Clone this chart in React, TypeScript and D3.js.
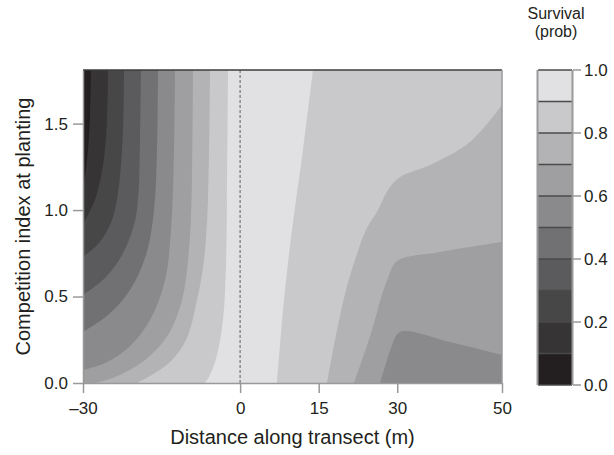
import * as d3 from "d3"
import { useEffect, useRef } from "react"

type Pt = [number, number]

const W = 614
const H = 455
const FONT = "'Liberation Sans', Arial, sans-serif"

const xDomain: [number, number] = [-30, 50]
const yDomain: [number, number] = [0, 1.81]
const xTicks = [-30, 0, 15, 30, 50]
const yTicks = [0, 0.5, 1.0, 1.5]
const legendTicks = [0, 0.2, 0.4, 0.6, 0.8, 1.0]
const legendBreaks = [0, 0.1, 0.2, 0.3, 0.4, 0.5, 0.6, 0.7, 0.8, 0.9, 1.0]

// fill colour of each 0.1 band, lowest survival first
const bandColors = [
  "#231f20",
  "#363435",
  "#484748",
  "#5b5a5c",
  "#717173",
  "#8a8a8c",
  "#9f9fa1",
  "#b3b3b5",
  "#c9c9cb",
  "#e1e1e3",
]

// left-hand branch of each contour, read from the top edge downwards
// [distance (m), competition index]
const left01: Pt[] = [[-28.47, 1.81], [-28.66, 1.55], [-29.05, 1.35], [-29.6, 1.2], [-30, 1.145]]
const left02: Pt[] = [[-25.23, 1.81], [-25.42, 1.52], [-26.18, 1.26], [-27.71, 1.06], [-30, 0.92]]
const left03: Pt[] = [[-22.17, 1.81], [-22.36, 1.46], [-23.13, 1.145], [-24.46, 0.943], [-26.95, 0.81], [-30, 0.73]]
const left04: Pt[] = [[-18.93, 1.81], [-19.12, 1.405], [-19.5, 1.058], [-20.26, 0.914], [-22.55, 0.74], [-25.8, 0.607], [-30, 0.509]]
const left05: Pt[] = [[-15.68, 1.81], [-15.87, 1.347], [-16.44, 1.0], [-17.97, 0.74], [-21.03, 0.538], [-25.23, 0.393], [-30, 0.295]]
const left06: Pt[] = [[-12.43, 1.81], [-12.62, 1.347], [-13.2, 0.885], [-14.34, 0.596], [-17.21, 0.364], [-21.41, 0.202], [-25.8, 0.116], [-30, 0.075]]
const left07: Pt[] = [[-9.0, 1.81], [-9.19, 1.174], [-9.76, 0.769], [-11.1, 0.48], [-13.77, 0.278], [-18.16, 0.133], [-23.89, 0.035], [-27.71, 0]]
const left08: Pt[] = [[-5.75, 1.81], [-6.13, 1.058], [-6.9, 0.711], [-8.23, 0.48], [-10.33, 0.249], [-13.39, 0.121], [-17.21, 0.04], [-19.69, 0]]
const left09: Pt[] = [[-2.31, 1.81], [-2.51, 1.058], [-2.7, 0.682], [-3.27, 0.364], [-4.42, 0.162], [-5.75, 0.046], [-6.71, 0]]

// right-hand branches, read from the bottom edge upwards
const right06: Pt[] = [[26.71, 0], [27.47, 0.075], [28.81, 0.202], [30.53, 0.295], [40.07, 0.237], [50, 0.162]]
const right07: Pt[] = [[21.74, 0], [23.27, 0.133], [25.18, 0.306], [26.9, 0.492], [28.23, 0.607], [29.95, 0.705], [38.16, 0.758], [50, 0.815]]
const right08: Pt[] = [[16.59, 0], [18.31, 0.278], [20.22, 0.538], [21.93, 0.711], [24.03, 0.885], [26.32, 1.0], [28.23, 1.116], [30.53, 1.191], [36.25, 1.261], [43.89, 1.394], [50, 1.608]]
const right09: Pt[] = [[7.04, 0], [8.38, 0.48], [9.9, 0.885], [12.0, 1.347], [13.91, 1.81]]

const leftBranches = [left01, left02, left03, left04, left05, left06, left07, left08, left09]
const rightBranches: (Pt[] | null)[] = [null, null, null, null, null, right06, right07, right08, right09]

const App = () => {
  const svgRef = useRef<SVGSVGElement>(null)

  useEffect(() => {
    if (!svgRef.current) return
    const svg = d3.select(svgRef.current)
    svg.selectAll("*").remove()

    const MARGIN = { top: 70, right: 112, bottom: 72, left: 83 }
    const x = d3.scaleLinear().domain(xDomain).range([MARGIN.left, W - MARGIN.right])
    const y = d3.scaleLinear().domain(yDomain).range([H - MARGIN.bottom, MARGIN.top])
    const [x0, x1] = xDomain
    const [y0, y1] = yDomain

    const curve = d3
      .line<Pt>()
      .x((d) => x(d[0]))
      .y((d) => y(d[1]))
      .curve(d3.curveCatmullRom.alpha(0.5))

    // region where survival is above a level, closed along the plot edges
    const bandPath = (lft: Pt[], rgt: Pt[] | null) => {
      let d = curve(lft) as string
      const end = lft[lft.length - 1]
      if (end[1] > y0) d += `L${x(x0)},${y(y0)}`
      if (rgt) {
        d += (curve(rgt) as string).replace(/^M/, "L")
        const last = rgt[rgt.length - 1]
        if (last[1] < y1) d += `L${x(x1)},${y(y1)}`
      } else {
        d += `L${x(x1)},${y(y0)}L${x(x1)},${y(y1)}`
      }
      return d + "Z"
    }

    svg
      .append("defs")
      .append("clipPath")
      .attr("id", "plot-clip")
      .append("rect")
      .attr("x", x(x0))
      .attr("y", y(y1))
      .attr("width", x(x1) - x(x0))
      .attr("height", y(y0) - y(y1))

    const plot = svg.append("g").attr("clip-path", "url(#plot-clip)")
    plot
      .append("rect")
      .attr("x", x(x0))
      .attr("y", y(y1))
      .attr("width", x(x1) - x(x0))
      .attr("height", y(y0) - y(y1))
      .attr("fill", bandColors[0])

    plot
      .selectAll("path.band")
      .data(leftBranches)
      .join("path")
      .attr("class", "band")
      .attr("d", (lft, i) => bandPath(lft, rightBranches[i]))
      .attr("fill", (_, i) => bandColors[i + 1])

    // planting line
    svg
      .append("line")
      .attr("x1", x(0))
      .attr("x2", x(0))
      .attr("y1", y(y1))
      .attr("y2", y(y0))
      .attr("stroke", "#8a8a8a")
      .attr("stroke-width", 1.5)
      .style("stroke-dasharray", "3,2")

    // frame
    svg
      .append("line")
      .attr("x1", x(x0))
      .attr("x2", x(x1))
      .attr("y1", y(y1))
      .attr("y2", y(y1))
      .attr("stroke", "#3c3c3c")
      .attr("stroke-width", 1.5)
    svg
      .append("line")
      .attr("x1", x(x1))
      .attr("x2", x(x1))
      .attr("y1", y(y1))
      .attr("y2", y(y0))
      .attr("stroke", "#9a9a9a")
      .attr("stroke-width", 1.5)

    const styleAxis = (g: d3.Selection<SVGGElement, unknown, null, undefined>) => {
      g.select(".domain").attr("stroke", "#999").attr("stroke-width", 1.5)
      g.selectAll(".tick line").attr("stroke", "#999").attr("stroke-width", 1.5)
      g.selectAll(".tick text").attr("fill", "#231f20")
      g.attr("font-family", FONT).attr("font-size", 17)
    }

    svg
      .append("g")
      .attr("transform", `translate(0, ${y(y0)})`)
      .call(
        d3
          .axisBottom(x)
          .tickValues(xTicks)
          .tickSize(10)
          .tickSizeOuter(0)
          .tickPadding(9)
          .tickFormat((d) => (+d < 0 ? `–${-d}` : `${d}`)),
      )
      .call(styleAxis)

    svg
      .append("g")
      .attr("transform", `translate(${x(x0)}, 0)`)
      .call(
        d3
          .axisLeft(y)
          .tickValues(yTicks)
          .tickSize(10)
          .tickSizeOuter(0)
          .tickPadding(5)
          .tickFormat(d3.format(".1f")),
      )
      .call(styleAxis)

    svg
      .append("text")
      .attr("x", (x(x0) + x(x1)) / 2)
      .attr("y", 444)
      .attr("text-anchor", "middle")
      .attr("font-family", FONT)
      .attr("font-size", 20)
      .attr("fill", "#231f20")
      .text("Distance along transect (m)")

    svg
      .append("text")
      .attr("transform", `translate(30, ${(y(y0) + y(y1)) / 2}) rotate(-90)`)
      .attr("text-anchor", "middle")
      .attr("font-family", FONT)
      .attr("font-size", 20)
      .attr("fill", "#231f20")
      .text("Competition index at planting")

    // colour key
    const cb = d3.scaleLinear().domain([0, 1]).range([385, 70])
    const cbLeft = 538
    const cbRight = 572
    const key = svg.append("g")
    key
      .selectAll("rect")
      .data(bandColors)
      .join("rect")
      .attr("x", cbLeft)
      .attr("width", cbRight - cbLeft)
      .attr("y", (_, i) => cb(legendBreaks[i + 1]))
      .attr("height", (_, i) => cb(legendBreaks[i]) - cb(legendBreaks[i + 1]))
      .attr("fill", (c) => c)
    key
      .selectAll("line.sep")
      .data(legendBreaks)
      .join("line")
      .attr("class", "sep")
      .attr("x1", cbLeft)
      .attr("x2", cbRight)
      .attr("y1", (d) => cb(d))
      .attr("y2", (d) => cb(d))
      .attr("stroke", "#4a4a4a")
      .attr("stroke-width", 1.3)
    ;[cbLeft - 0.5, cbRight + 0.5].forEach((xx) => {
      key
        .append("line")
        .attr("x1", xx)
        .attr("x2", xx)
        .attr("y1", cb(1))
        .attr("y2", cb(0))
        .attr("stroke", "#9a9a9a")
        .attr("stroke-width", 2)
    })
    key
      .selectAll("line.tick")
      .data(legendTicks)
      .join("line")
      .attr("class", "tick")
      .attr("x1", cbRight + 1)
      .attr("x2", cbRight + 9)
      .attr("y1", (d) => cb(d))
      .attr("y2", (d) => cb(d))
      .attr("stroke", "#999")
      .attr("stroke-width", 1.5)
    key
      .selectAll("text.lab")
      .data(legendTicks)
      .join("text")
      .attr("class", "lab")
      .attr("x", cbRight + 12)
      .attr("y", (d) => cb(d))
      .attr("dy", "0.35em")
      .attr("font-family", FONT)
      .attr("font-size", 17)
      .attr("fill", "#231f20")
      .text((d) => d3.format(".1f")(d))

    key
      .append("text")
      .attr("x", 556)
      .attr("y", 18.5)
      .attr("text-anchor", "middle")
      .attr("font-family", FONT)
      .attr("font-size", 16)
      .attr("fill", "#231f20")
      .text("Survival")
    key
      .append("text")
      .attr("x", 556)
      .attr("y", 37)
      .attr("text-anchor", "middle")
      .attr("font-family", FONT)
      .attr("font-size", 16)
      .attr("fill", "#231f20")
      .text("(prob)")
  }, [])

  return (
    <svg
      ref={svgRef}
      width={W}
      height={H}
      style={{ position: "absolute", left: 0, top: 0, background: "#fff" }}
    />
  )
}

export default App
